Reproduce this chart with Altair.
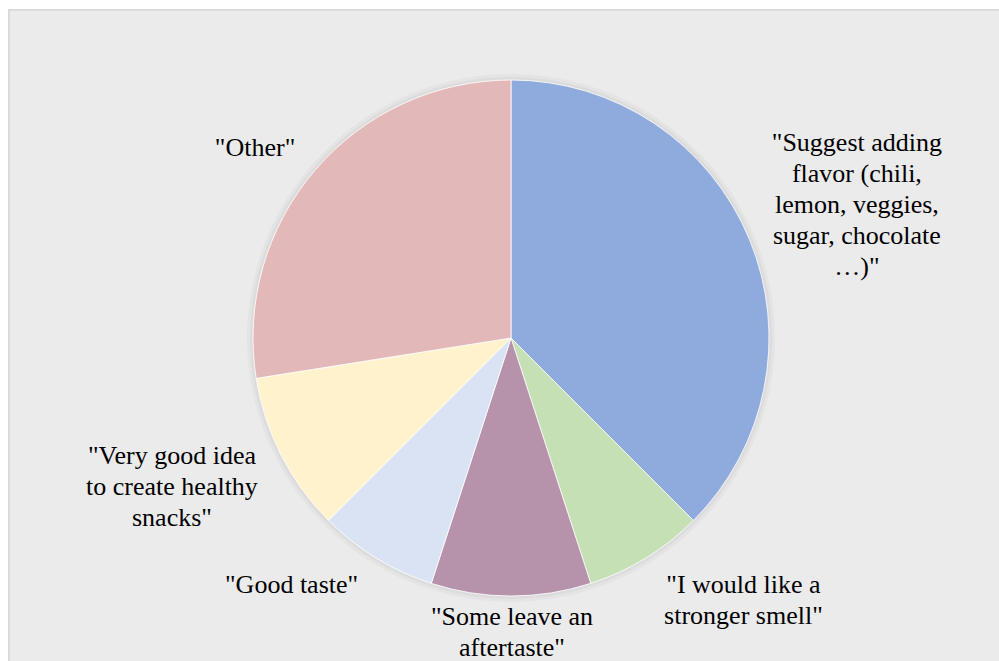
import altair as alt
import pandas as pd

categories = [
    "Suggest adding flavor",
    "I would like a stronger smell",
    "Some leave an aftertaste",
    "Good taste",
    "Very good idea to create healthy snacks",
    "Other",
]
labels = [
    '"Suggest adding\nflavor (chili,\nlemon, veggies,\nsugar, chocolate\n…)"',
    '"I would like a\nstronger smell"',
    '"Some leave an\naftertaste"',
    '"Good taste"',
    '"Very good idea\nto create healthy\nsnacks"',
    '"Other"',
]
values = [15, 3, 4, 3, 4, 11]
colors = ["#8FAADC", "#C5E0B4", "#B692AB", "#DAE3F3", "#FFF2CC", "#E2B8B9"]

df = pd.DataFrame({
    "idx": list(range(len(categories))),
    "category": categories,
    "label": labels,
    "value": values,
})

W, H = 976, 646
R = 258
LH = 31

base = alt.Chart(df).encode(
    theta=alt.Theta("value:Q", stack=True),
    order=alt.Order("idx:Q", sort="ascending"),
)

bg = alt.Chart(df).mark_rect(
    fill="#EBEBEB", stroke="#D9D9D9", strokeWidth=1.5, clip=False
).encode(
    x=alt.value(-14), x2=alt.value(W + 10),
    y=alt.value(-5), y2=alt.value(H + 10),
)

shadow1 = base.mark_arc(radius=R + 6, color="#E4E4E4").encode()
shadow2 = base.mark_arc(radius=R + 3, color="#DCDCDC").encode()

pie = base.mark_arc(radius=R, stroke="#FFFFFF", strokeWidth=0.8).encode(
    color=alt.Color(
        "category:N",
        scale=alt.Scale(domain=categories, range=colors),
        legend=None,
    )
)

# per-label offsets (style): radius, dx, dy (block centre)
offsets = [
    (330, 41, -7),
    (330, 60, -19),
    (330, 1, -36),
    (330, -47, -34),
    (330, -45, -1),
    (330, -5, 24),
]

text_layers = []
for i, (r, dx, dy) in enumerate(offsets):
    n_lines = labels[i].count("\n") + 1
    t = base.transform_calculate(
        t=f"datum.idx == {i} ? datum.label : ''"
    ).mark_text(
        radius=r, dx=dx, dy=dy - (n_lines - 1) * LH / 2,
        font="Liberation Serif",
        fontSize=26, lineHeight=LH,
        color="#000000", align="center", baseline="middle", lineBreak="\n",
    ).encode(text="t:N")
    text_layers.append(t)

chart = alt.layer(bg, shadow1, shadow2, pie, *text_layers).properties(
    width=W, height=H,
    padding={"left": 23, "top": 15, "right": 0, "bottom": 0},
    autosize=alt.AutoSizeParams(type="none"),
    background="#FFFFFF",
).configure_view(stroke=None)

chart.save("out.html", embed_options={"renderer": "svg", "actions": False})
